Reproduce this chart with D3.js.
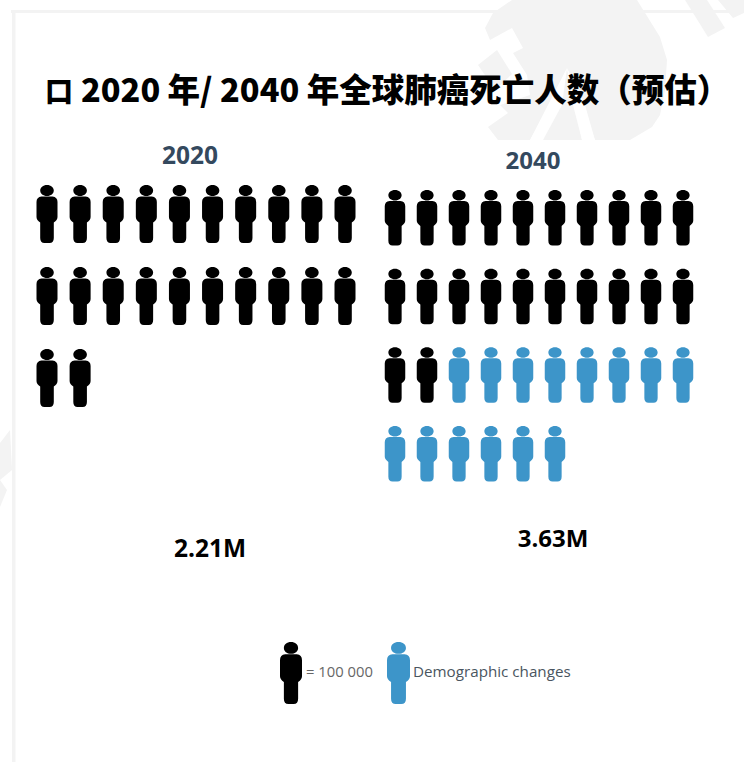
<!DOCTYPE html>
<html>
<head>
<meta charset="utf-8">
<script src="https://cdn.jsdelivr.net/npm/d3@7"></script>
<style>
  html, body { margin: 0; padding: 0; background: #fff; }
  svg { display: block; }
</style>
</head>
<body>
<div id="chart"></div>
<script>
const titleMarker = "口";
const chartTitle = "2020 年/ 2040 年全球肺癌死亡人数（预估）";
const years = ["2020", "2040"];
const baselineCounts = [22, 22];
const demographicCounts = [0, 14];
const totalLabels = ["2.21M", "3.63M"];
const legendLabels = ["= 100 000", "Demographic changes"];
const iconsPerRow = 10;
const inkColor = "#000000";
const changeColor = "#3d95c9";

const width = 744, height = 762;
const svg = d3.select("#chart").append("svg").attr("width", width).attr("height", height);

// Faint backdrop: page frame and the large emblem behind the heading
const backdrop = svg.append("g").attr("fill", "#f3f3f3");
backdrop.append("rect").attr("x", 11).attr("y", 10).attr("width", 733).attr("height", 3);
backdrop.append("rect").attr("x", 12).attr("y", 10).attr("width", 3.5).attr("height", 752);
[
  "M0,443 L10,430 L12,470 L0,480 Z",
  "M0,480 L7,490 L0,507 Z",
  // main disc, split by an inverted V at the bottom
  "M512,0 L637,0 L660,37 L667,60 L665,90 L660,115 L652,127 L630,140 L595,140 L567,68 L582,140 L543,140 L567,68 L530,140 L498,140 L488,127 L508,113 L500,105 L530,95 L527,75 L513,53 L523,48 L512,28 L490,40 L485,28 L493,13 Z",
  "M478,65 L497,50 L512,74 L495,90 Z",
  "M685,0 L707,0 L725,28 L708,37 Z",
  "M718,0 L744,0 L744,13 L733,18 Z"
].forEach(d => backdrop.append("path").attr("d", d));
// White bands of the inverted V
backdrop.append("path").attr("fill", "#fff").attr("d", "M567,68 L562,105 L543,140 L530,140 L550,105 Z M567,68 L585,105 L595,140 L582,140 L573,105 Z");

// Unit person glyph, 21 wide by 58 tall
const personPath = [
  "M10.5,0 C14.5,0 17.3,2.5 17.3,5.5 C17.3,8.5 14.5,11 10.5,11 C6.5,11 3.7,8.5 3.7,5.5 C3.7,2.5 6.5,0 10.5,0 Z",
  "M5,11.5 L16,11.5 Q21,12 21,17 L21,32 Q21,35 17.3,37.5 L17.3,53 Q17.3,58 13,58 L8,58 Q3.7,58 3.7,53 L3.7,37.5 Q0,35 0,32 L0,17 Q0,12 5,11.5 Z"
].join(" ");
svg.append("defs").append("path").attr("id", "person").attr("d", personPath);

function drawPerson(parent, cx, top, iconWidth, iconHeight, color) {
  parent.append("use")
    .attr("href", "#person")
    .attr("transform", `translate(${cx - iconWidth / 2},${top}) scale(${iconWidth / 21},${iconHeight / 58})`)
    .attr("fill", color);
}

// One grid per year, with its own scales for columns and rows
const panels = [
  { xRange: [47, 345], yRange: [185, 349], rows: 3, iconW: 21, iconH: 58, labelX: 190, labelY: 164, labelSize: 24.5, totalX: 210, totalY: 557, totalSize: 24.5 },
  { xRange: [395, 683], yRange: [190, 426], rows: 4, iconW: 20.5, iconH: 55.5, labelX: 533, labelY: 169, labelSize: 24, totalX: 553, totalY: 547, totalSize: 24 }
];

years.forEach((year, i) => {
  const p = panels[i];
  const col = d3.scalePoint().domain(d3.range(iconsPerRow)).range(p.xRange);
  const row = d3.scalePoint().domain(d3.range(p.rows)).range(p.yRange);
  const colors = [
    ...d3.range(baselineCounts[i]).map(() => inkColor),
    ...d3.range(demographicCounts[i]).map(() => changeColor)
  ];
  const g = svg.append("g");
  colors.forEach((color, k) => {
    drawPerson(g, col(k % iconsPerRow), row(Math.floor(k / iconsPerRow)), p.iconW, p.iconH, color);
  });
  svg.append("text").attr("x", p.labelX).attr("y", p.labelY)
    .attr("text-anchor", "middle")
    .attr("font-family", "'Open Sans', sans-serif").attr("font-weight", 700).attr("font-size", p.labelSize)
    .attr("fill", "#34495e").text(year);
  svg.append("text").attr("x", p.totalX).attr("y", p.totalY)
    .attr("text-anchor", "middle")
    .attr("font-family", "'Open Sans', sans-serif").attr("font-weight", 700).attr("font-size", p.totalSize)
    .attr("fill", "#000").text(totalLabels[i]);
});

// Heading: a small square marker followed by the title proper
const heading = svg.append("text").attr("y", 102)
  .attr("font-family", "'Noto Sans CJK SC', sans-serif").attr("font-weight", 900)
  .attr("fill", "#000");
heading.append("tspan").attr("x", 45).attr("font-size", 28).text(titleMarker);
heading.append("tspan").attr("x", 81).attr("font-size", 32.5).text(chartTitle);

// Legend
const legend = svg.append("g");
drawPerson(legend, 291, 642, 22, 62, inkColor);
drawPerson(legend, 398.5, 642, 23, 62, changeColor);
legend.selectAll("text").data(legendLabels).join("text")
  .attr("x", (d, i) => [306, 413][i]).attr("y", 677)
  .attr("font-family", "'Open Sans', sans-serif").attr("font-size", (d, i) => [14.8, 15.2][i])
  .attr("fill", (d, i) => ["#666", "#4a5560"][i]).text(d => d);
</script>
</body>
</html>
